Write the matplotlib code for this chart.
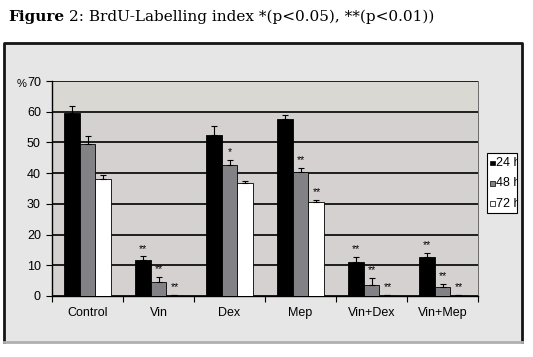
import matplotlib.pyplot as plt
from matplotlib.patches import Rectangle
import numpy as np

groups = ["Control", "Vin", "Dex", "Mep", "Vin+Dex", "Vin+Mep"]
series = ["24 h", "48 h", "72 h"]

# mean values (%)
h24 = [59.5, 11.7, 52.3, 57.7, 11.0, 12.8]
h48 = [49.5, 4.7, 42.5, 40.5, 3.7, 3.0]
h72 = [38.0, 0.3, 36.8, 30.5, 0.3, 0.3]
# upper error bars
e24 = [2.3, 1.2, 3.0, 1.3, 1.8, 1.3]
e48 = [2.5, 1.5, 1.8, 1.3, 2.3, 1.0]
e72 = [1.3, 0.1, 0.7, 0.8, 0.1, 0.1]
# significance marks
s24 = ["", "**", "", "", "**", "**"]
s48 = ["", "**", "*", "**", "**", "**"]
s72 = ["", "**", "", "**", "**", "**"]

colors = ["black", "#828286", "white"]
font = ["Liberation Sans Narrow", "Liberation Sans", "DejaVu Sans"]
serif = ["DejaVu Serif"]

fig = plt.figure(figsize=(5.33, 3.57), dpi=100)
W, H = 533, 357

# title
fig.text(8 / W, 1 - 17 / H, "Figure", fontsize=11, fontweight="bold",
         family=serif, va="center")
fig.text(69 / W, 1 - 17 / H, "2: BrdU-Labelling index *(p<0.05), **(p<0.01))",
         fontsize=11, family=serif, va="center")

# chart frame
fig.patches.append(Rectangle((4 / W, 1 - 342 / H), 518 / W, 299 / H,
                             transform=fig.transFigure, facecolor="#e6e6e6",
                             edgecolor="none", zorder=-5))
fig.add_artist(plt.Line2D([4 / W, 4 / W, 522 / W, 522 / W],
                          [1 - 342 / H, 1 - 43 / H, 1 - 43 / H, 1 - 342 / H],
                          transform=fig.transFigure, color="#151515", lw=2))
fig.add_artist(plt.Line2D([4 / W, 522 / W], [1 - 342 / H, 1 - 342 / H],
                          transform=fig.transFigure, color="#b0b0b0", lw=2))

ax = fig.add_axes([52 / W, 1 - 296 / H, 426 / W, 215 / H])
ax.set_facecolor("#d6d1d1")
ax.axhspan(60, 70, color="#d9d8d3", zorder=0)

x = np.arange(len(groups))
bw = 0.225
vals = [h24, h48, h72]
errs = [e24, e48, e72]
stars = [s24, s48, s72]
for i in range(3):
    xs = x + (i - 1) * bw
    ax.bar(xs, vals[i], bw, color=colors[i], edgecolor="black", lw=0.6, zorder=3,
           yerr=[np.zeros(len(groups)), errs[i]], capsize=2.5,
           error_kw=dict(ecolor="black", lw=0.8, capthick=0.8), label=series[i])
    for xi, v, e, s in zip(xs, vals[i], errs[i], stars[i]):
        if s:
            ax.text(xi, v + e + 0.8, s, ha="center", va="bottom", fontsize=7.5,
                    family=font)

ax.set_xlim(-0.5, len(groups) - 0.5)
ax.set_ylim(0, 70)
ax.set_yticks(range(0, 71, 10))
ax.yaxis.grid(True, color="black", lw=1.2, zorder=1)
ax.set_axisbelow(True)
ax.set_xticks(np.arange(-0.5, len(groups), 1))
ax.set_xticklabels([])
ax.set_xticks(x, minor=True)
ax.set_xticklabels(groups, minor=True, fontsize=9, family=font)
ax.tick_params(axis="x", which="minor", length=0, pad=8)
ax.tick_params(axis="x", which="major", length=4, width=0.8)
ax.tick_params(axis="y", length=4, width=0.8, labelsize=9, pad=4)
for lab in ax.get_yticklabels():
    lab.set_family(font)
ax.spines["top"].set_visible(False)
ax.spines["right"].set_color("#555555")
ax.spines["right"].set_linewidth(0.6)
ax.spines["left"].set_linewidth(1.0)
ax.spines["bottom"].set_linewidth(1.0)

fig.text(17 / W, 1 - 84 / H, "%", fontsize=8, family=font, va="center")

# legend box, drawn by hand so the labels get cut by the frame like the original
box = Rectangle((487 / W, 1 - 213 / H), 30 / W, 60 / H, transform=fig.transFigure,
                facecolor="white", edgecolor="black", lw=0.8, zorder=5)
fig.add_artist(box)
for k, (lab, c) in enumerate(zip(series, colors)):
    yy = 1 - (163 + 20.5 * k) / H
    fig.add_artist(Rectangle((490 / W, yy - 2.5 / H), 5 / W, 5 / H,
                             transform=fig.transFigure, facecolor=c,
                             edgecolor="black", lw=0.5, zorder=6))
    t = fig.text(496 / W, yy, lab, fontsize=9, family=font, va="center", zorder=6)
    t.set_clip_path(box)

fig.savefig("out.png", dpi=100)
